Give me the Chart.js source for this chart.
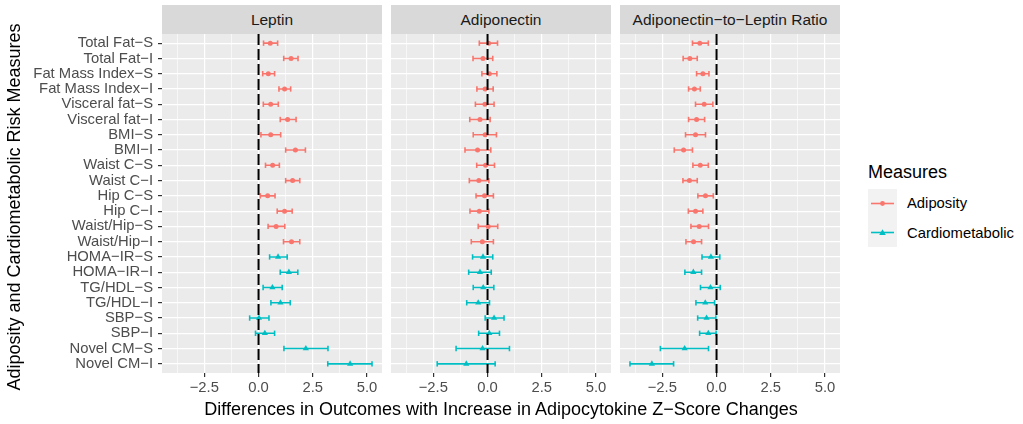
<!DOCTYPE html>
<html>
<head>
<meta charset="utf-8">
<script src="https://cdn.jsdelivr.net/npm/chart.js@4.4.1/dist/chart.umd.min.js"></script>
<style>
  body { margin: 0; background: #fff; font-family: "Liberation Sans", Arial, sans-serif; }
  #wrap { position: relative; width: 1023px; height: 424px; overflow: hidden; }
  #wrap canvas { position: absolute; top: 34px; }
  .strip { position: absolute; top: 5px; width: 220px; height: 29px; line-height: 29px; background: #D9D9D9;
           color: #1A1A1A; font-size: 15.5px; text-align: center; white-space: nowrap; }
  .title { position: absolute; color: #000; font-size: 18px; line-height: 22px; text-align: center; white-space: nowrap; }
  .lg { position: absolute; font-size: 14.8px; color: #000; line-height: 18px; }
</style>
</head>
<body>
<div id="wrap">
  <div class="strip" style="left:162px">Leptin</div>
  <div class="strip" style="left:391px">Adiponectin</div>
  <div class="strip" style="left:620px">Adiponectin−to−Leptin Ratio</div>

  <canvas id="c1" width="382" height="366" style="left:0px"></canvas>
  <canvas id="c2" width="220" height="366" style="left:391px"></canvas>
  <canvas id="c3" width="220" height="366" style="left:620px"></canvas>

  <div class="title" style="left:-186px; top:196px; width:400px; transform:rotate(-90deg)">Adiposity and Cardiometabolic Risk Measures</div>
  <div class="title" style="left:101px; top:398px; width:800px">Differences in Outcomes with Increase in Adipocytokine Z−Score Changes</div>

  <div class="title" style="left:868px; top:161px; text-align:left">Measures</div>
  <div style="position:absolute; left:868px; top:189px; width:29px; height:58px; background:#F2F2F2"></div>
  <svg style="position:absolute; left:868px; top:189px" width="29" height="58">
    <line x1="3" y1="14.5" x2="26" y2="14.5" stroke="#F8766D" stroke-width="1.6"/>
    <circle cx="14.5" cy="14.5" r="2.4" fill="#F8766D"/>
    <line x1="3" y1="43.5" x2="26" y2="43.5" stroke="#00BFC4" stroke-width="1.6"/>
    <polygon points="14.5,40.3 17.8,46 11.2,46" fill="#00BFC4"/>
  </svg>
  <div class="lg" style="left:907px; top:194px">Adiposity</div>
  <div class="lg" style="left:907px; top:224px">Cardiometabolic</div>
</div>

<script>
// row labels, top to bottom
const measures = [
  "Total Fat−S", "Total Fat−I", "Fat Mass Index−S", "Fat Mass Index−I",
  "Visceral fat−S", "Visceral fat−I", "BMI−S", "BMI−I", "Waist C−S", "Waist C−I",
  "Hip C−S", "Hip C−I", "Waist/Hip−S", "Waist/Hip−I",
  "HOMA−IR−S", "HOMA−IR−I", "TG/HDL−S", "TG/HDL−I", "SBP−S", "SBP−I",
  "Novel CM−S", "Novel CM−I"
];
const nAdiposity = 14; // first 14 rows are adiposity, rest cardiometabolic

const leptinEst = [0.54, 1.50, 0.45, 1.20, 0.56, 1.34, 0.56, 1.70, 0.65, 1.57, 0.42, 1.20, 0.81, 1.52,
                   0.90, 1.40, 0.64, 1.01, 0.02, 0.29, 2.18, 4.22];
const leptinLo  = [0.23, 1.16, 0.19, 0.94, 0.22, 1.00, 0.11, 1.25, 0.32, 1.25, 0.08, 0.86, 0.44, 1.15,
                   0.51, 1.00, 0.21, 0.57, -0.41, -0.14, 1.17, 3.19];
const leptinHi  = [0.88, 1.82, 0.74, 1.48, 0.91, 1.73, 1.02, 2.16, 0.96, 1.90, 0.76, 1.55, 1.21, 1.90,
                   1.32, 1.81, 1.09, 1.46, 0.48, 0.74, 3.20, 5.23];

const adipoEst = [0.05, -0.21, 0.08, -0.11, -0.12, -0.35, -0.11, -0.46, -0.09, -0.40, -0.14, -0.38, 0.03, -0.24,
                  -0.21, -0.35, -0.20, -0.43, 0.30, 0.08, -0.23, -0.98];
const adipoLo  = [-0.38, -0.67, -0.26, -0.49, -0.56, -0.82, -0.66, -1.04, -0.50, -0.84, -0.53, -0.81, -0.43, -0.75,
                  -0.69, -0.87, -0.66, -0.96, -0.11, -0.41, -1.45, -2.32];
const adipoHi  = [0.46, 0.24, 0.43, 0.26, 0.30, 0.12, 0.41, 0.15, 0.32, 0.06, 0.27, 0.06, 0.47, 0.27,
                  0.24, 0.17, 0.29, 0.09, 0.76, 0.55, 1.01, 0.35];

const ratioEst = [-0.77, -1.23, -0.63, -1.02, -0.57, -0.92, -0.97, -1.52, -0.75, -1.25, -0.51, -0.97, -0.80, -1.06,
                  -0.26, -1.07, -0.28, -0.52, -0.46, -0.38, -1.47, -2.98];
const ratioLo  = [-1.11, -1.54, -0.92, -1.29, -0.97, -1.29, -1.43, -1.95, -1.09, -1.55, -0.86, -1.30, -1.18, -1.41,
                  -0.67, -1.46, -0.74, -0.95, -0.87, -0.78, -2.59, -3.99];
const ratioHi  = [-0.38, -0.89, -0.35, -0.75, -0.17, -0.55, -0.51, -1.11, -0.38, -0.89, -0.15, -0.63, -0.37, -0.69,
                  0.15, -0.69, 0.17, -0.09, -0.03, -0.02, -0.37, -1.98];

const xMajor = [-2.5, 0, 2.5, 5];
const xMinor = [-3.75, -1.25, 1.25, 3.75];

const RED = "#F8766D", TEAL = "#00BFC4";
const FONT = "'Liberation Sans', Arial, sans-serif";

const panelBg = {
  id: "panelBg",
  beforeDraw(chart) {
    const { ctx, chartArea: a } = chart;
    ctx.save();
    ctx.fillStyle = "#EBEBEB";
    ctx.fillRect(a.left, a.top, a.right - a.left, a.bottom - a.top);
    ctx.restore();
  }
};

function rows(from, to, fn) {
  const out = [];
  for (let i = from; i < to; i++) fn(out, i);
  return out;
}

function makePanel(id, est, lo, hi, showLabels) {
  const n = measures.length;
  const pts = (a, b) => rows(a, b, (o, i) => o.push({ x: est[i], y: i }));
  const bars = (a, b) => rows(a, b, (o, i) => o.push({ x: lo[i], y: i }, { x: hi[i], y: i }, { x: null, y: i }));
  const caps = (a, b) => rows(a, b, (o, i) => o.push({ x: lo[i], y: i }, { x: hi[i], y: i }));

  const capStyle = c => ({ pointStyle: "line", rotation: 90, pointRadius: 2.7, borderColor: c, borderWidth: 1.6 });

  return new Chart(document.getElementById(id), {
    type: "scatter",
    plugins: [panelBg],
    data: {
      datasets: [
        { data: [{ x: 0, y: -0.6 }, { x: 0, y: n - 0.4 }], showLine: true, borderColor: "#000",
          borderWidth: 2, borderDash: [11, 4], pointRadius: 0 },
        { data: pts(0, nAdiposity), pointStyle: "circle", pointRadius: 2.5, backgroundColor: RED, borderColor: RED, borderWidth: 0 },
        { data: pts(nAdiposity, n), pointStyle: "triangle", pointRadius: 3.6, backgroundColor: TEAL, borderColor: TEAL, borderWidth: 0 },
        { data: bars(0, nAdiposity), showLine: true, borderColor: RED, borderWidth: 1.6, pointRadius: 0 },
        { data: bars(nAdiposity, n), showLine: true, borderColor: TEAL, borderWidth: 1.6, pointRadius: 0 },
        Object.assign({ data: caps(0, nAdiposity) }, capStyle(RED)),
        Object.assign({ data: caps(nAdiposity, n) }, capStyle(TEAL)),
      ]
    },
    options: {
      responsive: false,
      animation: false,
      events: [],
      layout: { padding: 0, autoPadding: false },
      plugins: { legend: { display: false }, tooltip: { enabled: false } },
      scales: {
        x: {
          min: -4.45, max: 5.69,
          afterBuildTicks: s => { s.ticks = xMinor.concat(xMajor).sort((a, b) => a - b).map(v => ({ value: v })); },
          afterFit: s => { s.height = 27; s.paddingLeft = 0; s.paddingRight = 0; },
          border: { display: false },
          grid: {
            color: "#fff",
            lineWidth: c => xMajor.includes(c.tick.value) ? 1.2 : 0.6,
            tickLength: 4,
            tickColor: c => xMajor.includes(c.tick.value) ? "#333333" : "rgba(0,0,0,0)",
            tickWidth: 1.2
          },
          ticks: {
            autoSkip: false, maxRotation: 0, padding: 2,
            color: "#4D4D4D", font: { family: FONT, size: 14.8 },
            callback: v => xMajor.includes(v) ? v.toFixed(1).replace("-", "−") : ""
          }
        },
        y: {
          reverse: true, min: -0.6, max: n - 0.4,
          afterBuildTicks: s => { s.ticks = measures.map((m, i) => ({ value: i })); },
          afterFit: s => { s.width = showLabels ? 162 : 0; s.paddingTop = 0; s.paddingBottom = 0; },
          border: { display: false },
          grid: { color: "#fff", lineWidth: 1.2, drawTicks: showLabels, tickLength: 4, tickColor: "#333333", tickWidth: 1.2 },
          ticks: {
            display: showLabels, autoSkip: false, padding: 5,
            color: "#4D4D4D", font: { family: FONT, size: 14.8 },
            callback: v => measures[v]
          }
        }
      }
    }
  });
}

makePanel("c1", leptinEst, leptinLo, leptinHi, true);
makePanel("c2", adipoEst, adipoLo, adipoHi, false);
makePanel("c3", ratioEst, ratioLo, ratioHi, false);
</script>
</body>
</html>
